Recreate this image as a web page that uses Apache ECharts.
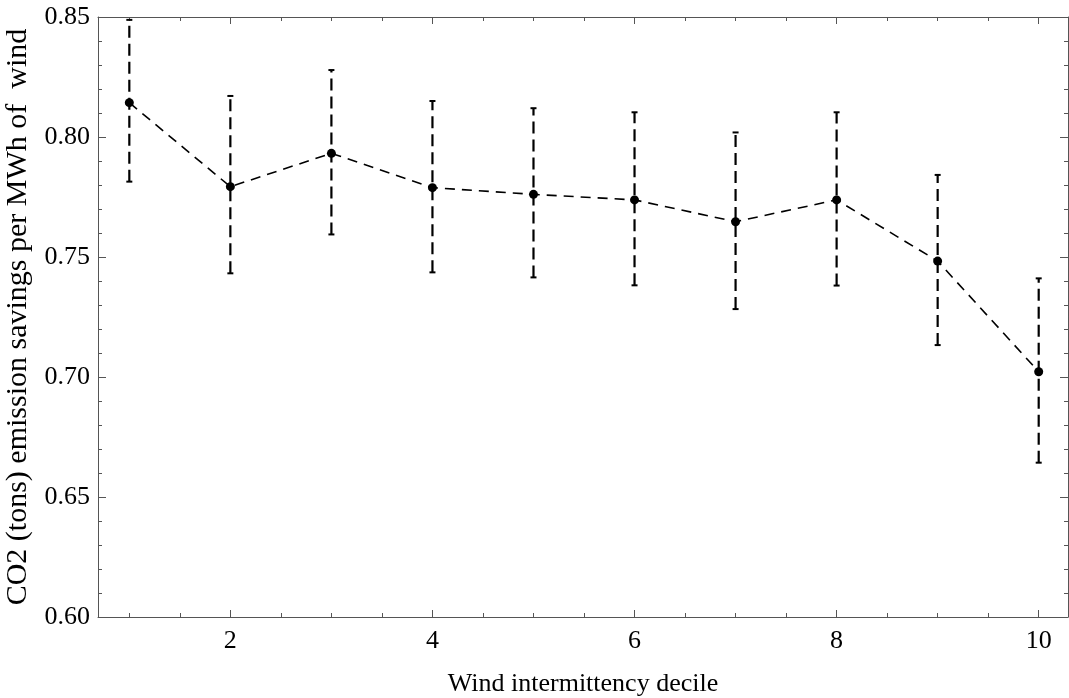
<!DOCTYPE html>
<html>
<head>
<meta charset="utf-8">
<script src="https://cdn.jsdelivr.net/npm/echarts@6/dist/echarts.min.js"></script>
<style>html,body{margin:0;padding:0;background:#fff;}#c{width:1069px;height:698px;}</style>
</head>
<body>
<div id="c"></div>
<script>
var deciles = [1, 2, 3, 4, 5, 6, 7, 8, 9, 10];
var means = [0.8143, 0.7793, 0.7932, 0.7789, 0.7761, 0.7738, 0.7647, 0.7738, 0.7483, 0.7022];
var upper = [0.8488, 0.8171, 0.8279, 0.8150, 0.8120, 0.8103, 0.8019, 0.8103, 0.7842, 0.7411];
var lower = [0.7814, 0.7432, 0.7594, 0.7436, 0.7415, 0.7382, 0.7283, 0.7381, 0.7133, 0.6643];
var xMajorTicks = [2, 4, 6, 8, 10];
var xMinorTicks = [1, 1.5, 2.5, 3, 3.5, 4.5, 5, 5.5, 6.5, 7, 7.5, 8.5, 9, 9.5];
var xTitle = 'Wind intermittency decile';
var yTitle = 'CO2 (tons) emission savings per MWh of  wind';

var FONT = 'Liberation Serif';
var frameColor = '#555';
var X_MIN = 0.69, X_MAX = 10.29;

function xAx(pos, major, withLine, withLabel) {
  var a = {
    type: 'value', min: X_MIN, max: X_MAX, position: pos,
    axisLine: {show: withLine, lineStyle: {color: frameColor, width: 1}},
    axisTick: {show: true, inside: true, length: major ? 7 : 4,
      customValues: major ? xMajorTicks : xMinorTicks,
      lineStyle: {color: frameColor, width: 1}},
    axisLabel: {show: withLabel, customValues: xMajorTicks, margin: 11,
      fontFamily: FONT, fontSize: 26, color: '#000'},
    splitLine: {show: false}
  };
  if (withLabel) {
    a.name = xTitle; a.nameLocation = 'middle'; a.nameGap = 54;
    a.nameTextStyle = {fontFamily: FONT, fontSize: 26, color: '#000'};
  }
  return a;
}
function yAx(pos, withLabel) {
  var a = {
    type: 'value', min: 0.6, max: 0.85, interval: 0.05, position: pos,
    axisLine: {show: true, lineStyle: {color: frameColor, width: 1}},
    axisTick: {show: true, inside: true, length: 8, lineStyle: {color: frameColor, width: 1}},
    minorTick: {show: true, splitNumber: 5, length: 4, lineStyle: {color: frameColor, width: 1}},
    axisLabel: {show: withLabel, margin: 8, fontFamily: FONT, fontSize: 26, color: '#000',
      formatter: function (v) { return v.toFixed(2); }},
    splitLine: {show: false}, minorSplitLine: {show: false}
  };
  if (withLabel) {
    a.name = yTitle; a.nameLocation = 'middle'; a.nameGap = 60;
    a.nameTextStyle = {fontFamily: FONT, fontSize: 30, color: '#000'};
  }
  return a;
}

var chart = echarts.init(document.getElementById('c'), null, {renderer: 'canvas'});
chart.setOption({
  backgroundColor: '#fff',
  animation: false,
  grid: {left: 98, top: 17, right: 1, bottom: 81, containLabel: false, outerBoundsMode: 'none'},
  xAxis: [xAx('bottom', true, true, true), xAx('bottom', false, false, false),
          xAx('top', true, true, false), xAx('top', false, false, false)],
  yAxis: [yAx('left', true), yAx('right', false)],
  series: [
    {
      type: 'custom', xAxisIndex: 0, yAxisIndex: 0, z: 2,
      data: deciles.map(function (d, i) { return [d, lower[i], upper[i]]; }),
      renderItem: function (params, api) {
        var x = api.value(0);
        var lo = api.coord([x, api.value(1)]);
        var hi = api.coord([x, api.value(2)]);
        var cw = 3;
        return {
          type: 'group',
          children: [
            {type: 'line', shape: {x1: lo[0], y1: lo[1], x2: hi[0], y2: hi[1]},
             style: {stroke: '#000', lineWidth: 2.2, lineDash: [12, 6]}},
            {type: 'line', shape: {x1: hi[0] - cw, y1: hi[1], x2: hi[0] + cw, y2: hi[1]},
             style: {stroke: '#000', lineWidth: 2}},
            {type: 'line', shape: {x1: lo[0] - cw, y1: lo[1], x2: lo[0] + cw, y2: lo[1]},
             style: {stroke: '#000', lineWidth: 2}}
          ]
        };
      }
    },
    {
      type: 'line', xAxisIndex: 0, yAxisIndex: 0, z: 3,
      data: deciles.map(function (d, i) { return [d, means[i]]; }),
      symbol: 'circle', symbolSize: 9,
      itemStyle: {color: '#000'},
      lineStyle: {color: '#000', width: 1.6, type: [10, 7]}
    }
  ]
});
</script>
</body>
</html>
